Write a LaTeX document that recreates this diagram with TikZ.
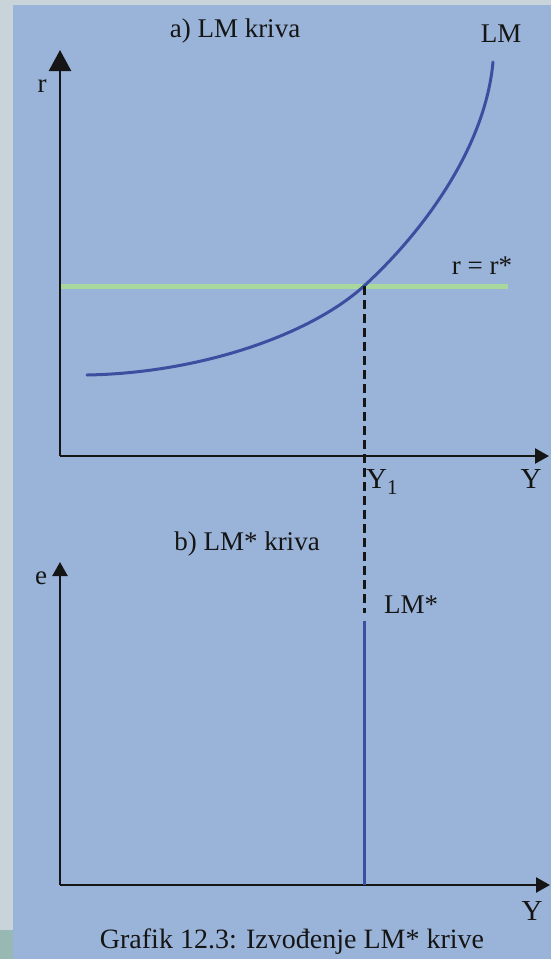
\documentclass[tikz,border=0pt]{standalone}
\usepackage{fontspec}
\setmainfont{Liberation Serif}
\usetikzlibrary{arrows.meta}
\definecolor{greyc}{HTML}{C9D4DA}
\definecolor{bluebg}{HTML}{9AB3D8}
\definecolor{tealc}{HTML}{98B8B4}
\definecolor{curveblue}{HTML}{3B4FA0}
\definecolor{greenl}{HTML}{A8D89C}
\definecolor{ink}{HTML}{151515}
\begin{document}
\begin{tikzpicture}[x=1pt,y=-1pt,
 axis/.style={line width=2.4pt, draw=ink},
 bigtip/.style={-{Triangle[length=21pt,width=22pt]}},
 smalltip/.style={-{Triangle[length=14pt,width=15pt]}},
 lbl/.style={font=\fontsize{27}{30}\selectfont, inner sep=0pt, anchor=base, text=ink},
 biglbl/.style={font=\fontsize{29}{32}\selectfont, inner sep=0pt, anchor=base, text=ink}]
\useasboundingbox (0,0) rectangle (551,959);
\fill[greyc] (0,0) rectangle (551,959);
\fill[bluebg] (13,5) rectangle (551,959);
\fill[tealc] (0,930) rectangle (13,959);

% top panel coordinates
\coordinate (o1) at (60,456);
\coordinate (r1) at (60,50);
\coordinate (y1) at (549,456);
\coordinate (gL) at (60,286);
\coordinate (gR) at (508,286);
\coordinate (ip) at (364,286);
\coordinate (dEnd) at (364,613);
\coordinate (cS) at (87,375);
\coordinate (cE) at (493,62);

% bottom panel coordinates
\coordinate (o2) at (60,885);
\coordinate (e2) at (60,562);
\coordinate (y2) at (550,885);
\coordinate (lmTop) at (364,621);
\coordinate (lmBot) at (364,885);

% green line r = r*
\draw[greenl, line width=5pt] (gL) -- (gR);

% LM curve
\draw[curveblue, line width=3pt, line cap=round]
 (cS) .. controls (200,373) and (310,335) .. (ip)
      .. controls (420,235) and (485,150) .. (cE);

% dashed line
\draw[ink, line width=3pt, dash pattern=on 9pt off 5pt] (ip) -- (dEnd);

% top axes
\draw[axis, bigtip] (o1) -- (r1);
\draw[axis, smalltip] (o1) -- (y1);

% bottom axes
\draw[axis, smalltip] (o2) -- (e2);
\draw[axis, smalltip] (o2) -- (y2);

% LM* vertical line
\draw[curveblue, line width=3pt] (lmTop) -- (lmBot);

% labels
\node[lbl] (ta) at (235,37) {a) LM kriva};
\node[lbl] (tlm) at (501,42) {LM};
\node[lbl] (tr) at (42,92) {r};
\node[lbl] (trr) at (482,274) {r = r*};
\node[biglbl, anchor=base west] (tY1) at (366,488) {Y\raisebox{-6pt}{\fontsize{21}{21}\selectfont 1}};
\node[biglbl] (tY) at (531,488) {Y};
\node[lbl] (tb) at (247,550) {b) LM* kriva};
\node[lbl] (te) at (41,584) {e};
\node[lbl] (tlms) at (411,613) {LM*};
\node[biglbl] (tY2) at (532,920) {Y};
\node[font=\fontsize{28}{30}\selectfont, inner sep=0pt, anchor=base, text=ink] (cap) at (292,948) {Grafik 12.3: Izvođenje LM* krive};
\end{tikzpicture}
\end{document}
